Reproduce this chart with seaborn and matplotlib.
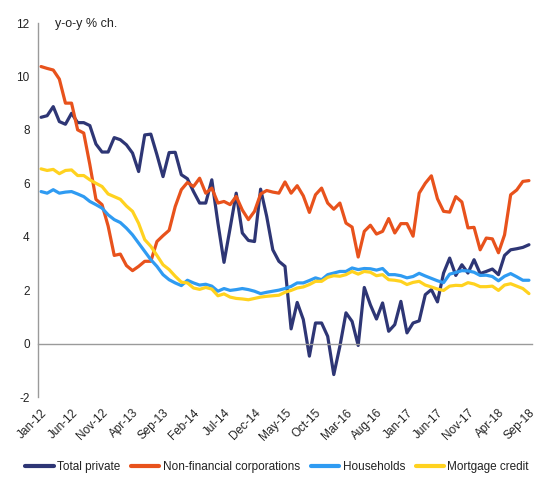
import numpy as np
import pandas as pd
import matplotlib
matplotlib.use('Agg')
import matplotlib.pyplot as plt
import seaborn as sns

months = pd.date_range('2012-01-01', '2018-09-01', freq='MS').strftime('%b-%y').tolist()
tick_labels = ['Jan-12', 'Jun-12', 'Nov-12', 'Apr-13', 'Sep-13', 'Feb-14', 'Jul-14', 'Dec-14',
               'May-15', 'Oct-15', 'Mar-16', 'Aug-16', 'Jan-17', 'Jun-17', 'Nov-17', 'Apr-18', 'Sep-18']

total_private = [8.47, 8.53, 8.87, 8.31, 8.21, 8.62, 8.27, 8.27, 8.16, 7.47,
                 7.17, 7.17, 7.71, 7.63, 7.44, 7.13, 6.44, 7.81, 7.84, 7.07,
                 6.25, 7.15, 7.16, 6.32, 6.17, 5.69, 5.26, 5.26, 6.13, 4.51,
                 3.04, 4.32, 5.63, 4.14, 3.86, 3.82, 5.78, 4.76, 3.51, 3.08,
                 2.89, 0.55, 1.54, 0.90, -0.47, 0.77, 0.77, 0.27, -1.16, -0.10,
                 1.15, 0.83, -0.07, 2.10, 1.45, 0.92, 1.52, 0.46, 0.71, 1.58,
                 0.40, 0.77, 0.85, 1.83, 2.02, 1.56, 2.64, 3.20, 2.55, 2.95,
                 2.64, 3.14, 2.62, 2.70, 2.79, 2.58, 3.30, 3.51, 3.55, 3.60,
                 3.70]
non_financial = [10.37, 10.30, 10.24, 9.90, 9.00, 9.00, 8.00, 7.88, 6.70, 5.40,
                 5.20, 4.40, 3.30, 3.35, 2.92, 2.73, 2.89, 3.08, 3.08, 3.82,
                 4.04, 4.24, 5.13, 5.76, 6.03, 5.88, 6.19, 5.63, 5.82, 5.26,
                 5.32, 5.20, 5.51, 5.00, 4.64, 4.95, 5.60, 5.73, 5.67, 5.63,
                 6.05, 5.63, 5.91, 5.53, 4.91, 5.57, 5.82, 5.26, 5.03, 5.26,
                 4.51, 4.36, 3.24, 4.20, 4.43, 4.10, 4.20, 4.68, 4.14, 4.49,
                 4.49, 4.02, 5.63, 6.00, 6.28, 5.42, 4.95, 4.92, 5.50, 5.30,
                 4.33, 4.35, 3.51, 3.95, 3.92, 3.40, 4.07, 5.57, 5.75, 6.07,
                 6.10]
households = [5.69, 5.63, 5.76, 5.63, 5.67, 5.69, 5.60, 5.50, 5.32, 5.20,
              5.07, 4.82, 4.64, 4.53, 4.32, 4.07, 3.76, 3.45, 3.14, 2.89,
              2.58, 2.39, 2.27, 2.17, 2.37, 2.27, 2.19, 2.22, 2.15, 1.96,
              2.06, 1.99, 2.02, 2.06, 2.02, 1.96, 1.87, 1.92, 1.96, 2.00,
              2.06, 2.14, 2.27, 2.27, 2.36, 2.46, 2.39, 2.58, 2.64, 2.70,
              2.70, 2.83, 2.77, 2.81, 2.80, 2.75, 2.81, 2.58, 2.58, 2.54,
              2.46, 2.51, 2.63, 2.53, 2.44, 2.35, 2.28, 2.60, 2.66, 2.73,
              2.72, 2.67, 2.55, 2.56, 2.51, 2.35, 2.52, 2.62, 2.50, 2.37,
              2.37]
mortgage = [6.54, 6.48, 6.52, 6.36, 6.48, 6.50, 6.29, 6.29, 6.13, 6.00,
            5.88, 5.60, 5.50, 5.40, 5.15, 4.95, 4.50, 3.89, 3.64, 3.30,
            2.95, 2.77, 2.52, 2.30, 2.27, 2.08, 2.03, 2.10, 2.04, 1.79,
            1.86, 1.74, 1.69, 1.67, 1.64, 1.69, 1.74, 1.77, 1.79, 1.81,
            1.92, 1.99, 2.08, 2.12, 2.21, 2.33, 2.33, 2.48, 2.54, 2.52,
            2.58, 2.70, 2.60, 2.70, 2.67, 2.54, 2.58, 2.39, 2.37, 2.33,
            2.21, 2.29, 2.33, 2.19, 2.12, 2.04, 1.99, 2.15, 2.18, 2.17,
            2.28, 2.23, 2.13, 2.13, 2.15, 1.99, 2.19, 2.24, 2.15, 2.06,
            1.87]

series_names = ['Total private', 'Non-financial corporations', 'Households', 'Mortgage credit']
colors = ['#2E3675', '#E8521C', '#2F9BF2', '#FFD21F']

sns.set_style('white')
plt.rcParams['font.family'] = ['Liberation Sans', 'DejaVu Sans']
plt.rcParams['axes.unicode_minus'] = False

df = pd.DataFrame({
    'month': months,
    'pos': np.arange(len(months)),
    series_names[0]: total_private,
    series_names[1]: non_financial,
    series_names[2]: households,
    series_names[3]: mortgage,
})
long = df.melt(id_vars=['month', 'pos'], var_name='series', value_name='value')

W, H = 536, 478
fig = plt.figure(figsize=(W / 100, H / 100), dpi=100)
ax = fig.add_axes([38 / W, 1 - 397 / H, (532 - 38) / W, (397 - 23) / H])

sns.lineplot(data=long, x='pos', y='value', hue='series', hue_order=series_names,
             palette=colors, linewidth=2.3, ax=ax, legend=True)

ax.set_xlim(-0.5, len(months) - 0.5)
ax.set_ylim(-2, 12)
ax.set_xlabel('')
ax.set_ylabel('')

grey = '#9a9a9a'
for s in ['top', 'right']:
    ax.spines[s].set_visible(False)
ax.spines['left'].set_color(grey)
ax.spines['left'].set_linewidth(1)
ax.spines['bottom'].set_position(('data', 0))
ax.spines['bottom'].set_color(grey)
ax.spines['bottom'].set_linewidth(1)

yt = np.arange(-2, 13, 2)
ax.set_yticks(yt)
ax.set_yticklabels([str(v) for v in yt])
ax.tick_params(axis='y', direction='out', length=3, width=1, color=grey,
               labelsize=8.5, labelcolor='#222222', pad=3)

ax.set_xticks(np.arange(4.5, len(months) - 1, 5))
ax.set_xticklabels([])
ax.tick_params(axis='x', direction='out', length=3, width=1, color=grey)

sec = ax.secondary_xaxis('bottom')
sec.set_xticks(np.arange(0, len(months), 5))
sec.set_xticklabels(tick_labels, rotation=45, ha='right', rotation_mode='anchor',
                    fontsize=8.5, color='#222222')
sec.tick_params(length=0, pad=7)
sec.spines['bottom'].set_visible(False)

fig.text(55 / W, 1 - 24 / H, 'y-o-y % ch.', ha='left', va='center', fontsize=9, color='#222222')

handles, labels = ax.get_legend_handles_labels()
ax.get_legend().remove()
for h in handles:
    h.set_linewidth(3)
fig.legend(handles, labels, loc='center', bbox_to_anchor=(0.517, 1 - 467 / H), ncol=4,
           frameon=False, fontsize=8.5, handlelength=2.4, handletextpad=0.3,
           columnspacing=0.9, borderaxespad=0, borderpad=0, labelcolor='#222222')

fig.savefig('out.png', dpi=100)
